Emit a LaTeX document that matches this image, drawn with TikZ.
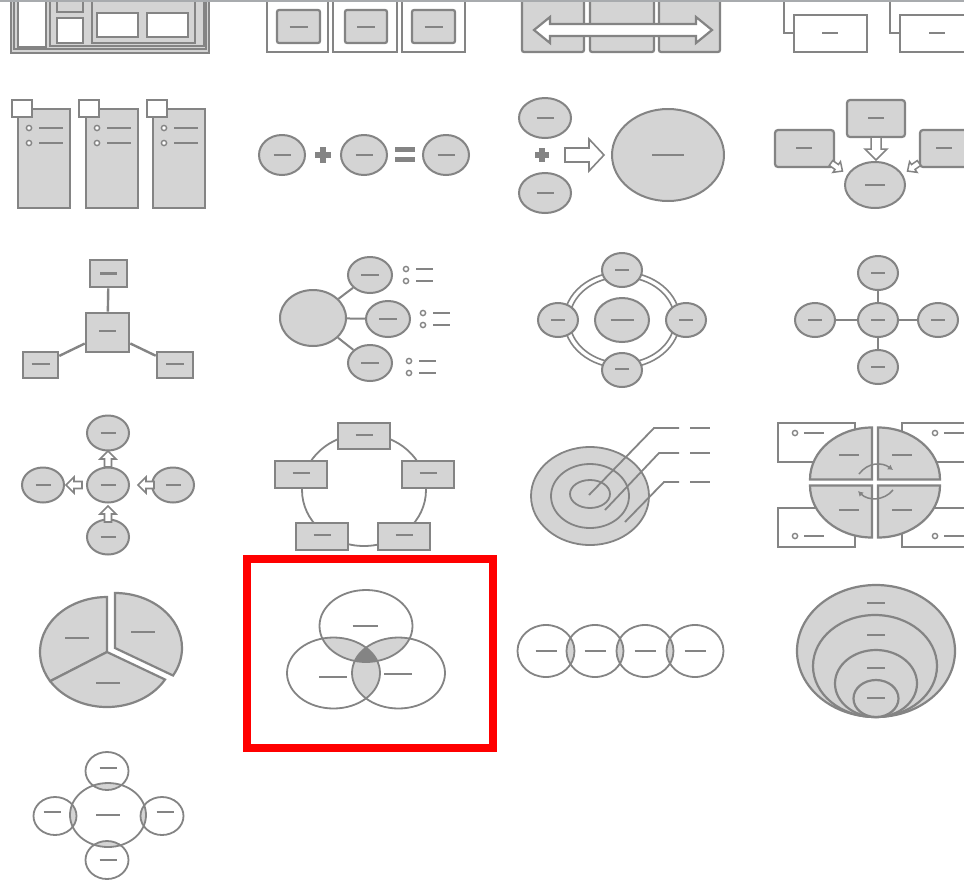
\documentclass[tikz,border=0pt]{standalone}
\usetikzlibrary{shapes.geometric,arrows.meta}
\definecolor{sg}{HTML}{848484}
\definecolor{fg}{HTML}{D4D4D4}
\definecolor{tg}{HTML}{A8ABAE}
\tikzset{
 gl/.style={draw=sg, line width=2.2pt},
 fl/.style={gl, fill=fg},
 dashl/.style={draw=sg, line width=2.6pt},
 bul/.style={draw=sg, line width=1.4pt, fill=white},
 bline/.style={draw=sg, line width=2pt},
 conn/.style={draw=sg, line width=2.4pt},
 ebox/.style={ellipse, draw=sg, fill=fg, line width=2pt, inner sep=0pt},
 rbox/.style={rectangle, draw=sg, fill=fg, line width=2.6pt, inner sep=0pt},
 harrow/.style={draw=sg, fill=white, line width=1.6pt, line join=miter},
 thin/.style={draw=sg, line width=1.8pt},
}
\newcommand\mydash[3]{\draw[dashl] ({#1-#3/2},#2) -- ({#1+#3/2},#2);}
\newcommand\mybul[2]{\draw[bul] (#1,#2) circle[radius=2.6];}
\newcommand\harr[3]{\draw[harrow, shift={(#1,#2)}, rotate=#3] (0,-3.5) -- (8,-3.5) -- (8,-8) -- (16,0) -- (8,8) -- (8,3.5) -- (0,3.5) -- cycle;}
\begin{document}
\begin{tikzpicture}[x=1pt,y=-1pt]
\useasboundingbox (0,0) rectangle (964,879);
\clip (0,0) rectangle (964,879);
\fill[white] (0,0) rectangle (964,879);

% ---------- Row 0 (cropped) ----------
% icon A
\draw[fl] (11,-5) rectangle (209,53);
\draw[gl] (14,-5) -- (14,49) -- (206,49) -- (206,-5);
\draw[gl, fill=white] (18,-5) rectangle (46,47);
\draw[gl] (50,-5) -- (50,46) -- (204,46) -- (204,-5);
\draw[gl] (57,-5) -- (57,12) -- (83,12) -- (83,-5);
\draw[gl, fill=white] (57,18) rectangle (83,43);
\draw[gl] (92,-5) -- (92,43) -- (195,43) -- (195,-5);
\draw[gl, fill=white] (97,13) rectangle (138,37);
\draw[gl, fill=white] (147,13) rectangle (188,37);
% icon B
\foreach \a/\b/\c/\d in {267/328/277/320, 333/397/345/387, 402/465/412/455}{
  \draw[gl] (\a,-5) -- (\a,52) -- (\b,52) -- (\b,-5);
  \draw[fl, rounded corners=2] (\c,10) rectangle (\d,43);
  \draw[dashl] ({(\c+\d)/2-9},27) -- ({(\c+\d)/2+9},27);
}
% icon C
\draw[fl, rounded corners=2] (522,-5) rectangle (584,52);
\draw[fl, rounded corners=2] (590,-5) rectangle (654,52);
\draw[fl, rounded corners=2] (659,-5) rectangle (720,52);
\draw[gl, fill=white] (534,30) -- (550,17) -- (550,24) -- (696,24) -- (696,17) -- (712,30) -- (696,43) -- (696,36) -- (550,36) -- (550,43) -- cycle;
% icon D
\draw[gl] (784,-5) -- (784,33) -- (794,33);
\draw[gl, fill=white] (794,15) rectangle (867,52);
\mydash{830}{33}{16}
\draw[gl] (890,-5) -- (890,33) -- (900,33);
\draw[gl, fill=white] (900,15) rectangle (980,52);
\mydash{937}{33}{16}

% ---------- Row 1 ----------
% icon E
\foreach \s/\r in {12/18, 79/86, 147/153}{
  \draw[fl] (\r,109) rectangle ({\r+52},208);
  \draw[gl, fill=white] (\s,100) rectangle ({\s+20},117);
  \draw[bul] ({\r+11},128) circle[radius=2.6];
  \draw[bul] ({\r+11},143) circle[radius=2.6];
  \draw[bline] ({\r+21},128) -- ({\r+45},128);
  \draw[bline] ({\r+21},143) -- ({\r+45},143);
}
% icon F
\node[ebox, minimum width=46, minimum height=40] (f1) at (282,155) {};
\node[ebox, minimum width=46, minimum height=40] (f2) at (364,155) {};
\node[ebox, minimum width=46, minimum height=40] (f3) at (446,155) {};
\mydash{282}{155}{17}\mydash{364}{155}{17}\mydash{446}{155}{17}
\draw[draw=sg, line width=6pt] (315,155) -- (331,155);
\draw[draw=sg, line width=6pt] (323,147) -- (323,163);
\draw[draw=sg, line width=5pt] (395,149.5) -- (415,149.5);
\draw[draw=sg, line width=5pt] (395,159.5) -- (415,159.5);
% icon G
\node[ebox, minimum width=52, minimum height=40] (g1) at (545,118) {};
\node[ebox, minimum width=52, minimum height=40] (g2) at (545,193) {};
\node[ebox, minimum width=112, minimum height=92] (g3) at (668,155) {};
\mydash{545}{118}{17}\mydash{545}{193}{17}\mydash{668}{155}{32}
\draw[draw=sg, line width=6pt] (535,155) -- (549,155);
\draw[draw=sg, line width=6pt] (542,148) -- (542,162);
\draw[harrow] (565,148) -- (589,148) -- (589,139) -- (604,155) -- (589,171) -- (589,162) -- (565,162) -- cycle;
% icon H
\node[rbox, rounded corners=3, line width=2.2pt, minimum width=58, minimum height=37] (h1) at (876,118.5) {};
\node[rbox, rounded corners=3, line width=2.2pt, minimum width=59, minimum height=37] (h2) at (804.5,148.5) {};
\node[rbox, rounded corners=3, line width=2.2pt, minimum width=60, minimum height=37] (h3) at (950,148.5) {};
\node[ebox, minimum width=60, minimum height=46] (h4) at (875,185) {};
\mydash{876}{118}{16}\mydash{804}{148}{16}\mydash{944}{148}{16}\mydash{875}{185}{20}
\draw[harrow, line width=1.5pt] (871,137) -- (881,137) -- (881,149) -- (887,149) -- (876,160) -- (865,149) -- (871,149) -- cycle;
\draw[harrow, line width=1.5pt, shift={(831,163)}, rotate=-35] (0,-3) -- (7,-3) -- (7,-6.5) -- (14,0) -- (7,6.5) -- (7,3) -- (0,3) -- cycle;
\draw[harrow, line width=1.5pt, shift={(919,163)}, rotate=215] (0,-3) -- (7,-3) -- (7,-6.5) -- (14,0) -- (7,6.5) -- (7,3) -- (0,3) -- cycle;

% ---------- Row 2 ----------
% icon I
\node[rbox, minimum width=37, minimum height=27] (it) at (108.5,273.5) {};
\node[rbox, minimum width=43, minimum height=39] (ic) at (107.5,332.5) {};
\node[rbox, minimum width=35, minimum height=26] (ibl) at (40.5,365) {};
\node[rbox, minimum width=36, minimum height=26] (ibr) at (175,365) {};
\draw[conn] (it) -- (ic);
\draw[conn] (ic) -- (ibl);
\draw[conn] (ic) -- (ibr);
\mydash{108.5}{273.5}{17}\mydash{107.5}{331}{17}\mydash{40.5}{364}{18}\mydash{175}{364}{18}
% icon J
\node[ebox, minimum width=66, minimum height=56] (jc) at (313,318) {};
\node[ebox, minimum width=44, minimum height=36] (j1) at (370,275) {};
\node[ebox, minimum width=44, minimum height=36] (j2) at (388,319) {};
\node[ebox, minimum width=44, minimum height=36] (j3) at (370,363) {};
\draw[conn, line width=2pt] (jc) -- (j1);
\draw[conn, line width=2pt] (jc) -- (j2);
\draw[conn, line width=2pt] (jc) -- (j3);
\mydash{370}{275}{18}\mydash{388}{319}{18}\mydash{370}{363}{18}
\foreach \bx/\by in {406/269, 406/281, 423/313, 423/325, 409/361, 409/373}{
  \draw[bul] (\bx,\by) circle[radius=2.6];
  \draw[bline] ({\bx+10},\by) -- ({\bx+27},\by);
}
% icon K
\draw[thin, line width=1.6pt] (622,320) ellipse[x radius=58, y radius=48];
\draw[thin, line width=1.6pt] (622,320) ellipse[x radius=52.5, y radius=43];
\node[ebox, minimum width=54, minimum height=44] (kc) at (622,320) {};
\node[ebox, minimum width=40, minimum height=34] (kt) at (622,270) {};
\node[ebox, minimum width=40, minimum height=34] (kb) at (622,370) {};
\node[ebox, minimum width=40, minimum height=34] (kl) at (558,320) {};
\node[ebox, minimum width=40, minimum height=34] (kr) at (686,320) {};
\mydash{622}{320}{23}\mydash{622}{270}{14}\mydash{622}{369}{14}\mydash{558}{320}{14}\mydash{686}{320}{14}
% icon L
\node[ebox, minimum width=40, minimum height=34] (lc) at (878,320) {};
\node[ebox, minimum width=40, minimum height=34] (lt) at (878,273) {};
\node[ebox, minimum width=40, minimum height=34] (lb) at (878,367) {};
\node[ebox, minimum width=40, minimum height=34] (ll) at (815,320) {};
\node[ebox, minimum width=40, minimum height=34] (lr) at (938,320) {};
\draw[conn, line width=2.2pt] (lc) -- (lt);
\draw[conn, line width=2.2pt] (lc) -- (lb);
\draw[conn, line width=2.2pt] (lc) -- (ll);
\draw[conn, line width=2.2pt] (lc) -- (lr);
\mydash{878}{320}{14}\mydash{878}{273}{14}\mydash{878}{367}{14}\mydash{815}{320}{14}\mydash{938}{320}{14}

% ---------- Row 3 ----------
% icon M
\node[ebox, minimum width=42, minimum height=35] (mc) at (108,485) {};
\node[ebox, minimum width=42, minimum height=35] (mt) at (108,433) {};
\node[ebox, minimum width=42, minimum height=35] (mb) at (108,537) {};
\node[ebox, minimum width=42, minimum height=35] (ml) at (43,485) {};
\node[ebox, minimum width=42, minimum height=35] (mr) at (173,485) {};
\mydash{108}{485}{15}\mydash{108}{433}{15}\mydash{108}{537}{15}\mydash{43}{485}{15}\mydash{173}{485}{15}
\harr{82}{485}{180}
\harr{154}{485}{180}
\harr{108}{467}{90}
\harr{108}{522}{90}
% icon N
\draw[thin] (364,490) ellipse[x radius=62, y radius=56];
\node[rbox, minimum width=52, minimum height=26] (n1) at (364,436) {};
\node[rbox, minimum width=52, minimum height=27] (n2) at (301,474.5) {};
\node[rbox, minimum width=52, minimum height=27] (n3) at (428,474.5) {};
\node[rbox, minimum width=52, minimum height=27] (n4) at (322,536.5) {};
\node[rbox, minimum width=52, minimum height=27] (n5) at (404,536.5) {};
\mydash{364}{435}{17}\mydash{301}{473}{17}\mydash{428}{473}{17}\mydash{322}{535}{17}\mydash{404}{535}{17}
% icon O (target)
\draw[fl, line width=1.8pt] (590,496) ellipse[x radius=59, y radius=49];
\draw[thin] (590,496) ellipse[x radius=39, y radius=32];
\draw[thin] (590,494) ellipse[x radius=20, y radius=14];
\draw[thin] (589,495) -- (654,428) -- (679,428);
\draw[thin] (605,510) -- (659,453) -- (679,453);
\draw[thin] (625,522) -- (664,482) -- (679,482);
\draw[bline] (690,428) -- (710,428);
\draw[bline] (690,453) -- (710,453);
\draw[bline] (690,482) -- (710,482);
% icon P (quadrants)
\draw[gl, fill=white] (778,423) rectangle (855,462);
\draw[gl, fill=white] (902,423) rectangle (980,462);
\draw[gl, fill=white] (778,508) rectangle (855,547);
\draw[gl, fill=white] (902,508) rectangle (980,547);
\foreach \bx/\by in {795/433, 935/433, 795/536, 935/536}{
  \draw[bul] (\bx,\by) circle[radius=2.6];
  \draw[bline] ({\bx+9},\by) -- ({\bx+29},\by);
}
\draw[fl] (872,479.5) -- ++(-62,0) arc[start angle=180, end angle=270, x radius=62, y radius=52] -- cycle;
\draw[fl] (878,479.5) -- ++(0,-52) arc[start angle=270, end angle=360, x radius=62, y radius=52] -- cycle;
\draw[fl] (872,485.5) -- ++(-62,0) arc[start angle=180, end angle=90, x radius=62, y radius=52] -- cycle;
\draw[fl] (878,485.5) -- ++(0,52) arc[start angle=90, end angle=0, x radius=62, y radius=52] -- cycle;
\mydash{849}{455}{20}\mydash{902}{455}{20}\mydash{849}{510}{20}\mydash{902}{510}{20}
\draw[draw=sg, line width=1.5pt, -{Latex[length=5pt,width=6pt]}] (859,474) .. controls (868,462) and (882,462) .. (893,470);
\draw[draw=sg, line width=1.5pt, -{Latex[length=5pt,width=6pt]}] (893,490) .. controls (884,501) and (868,501) .. (858,491);

% ---------- Row 4 ----------
% icon Q (pie)
\draw[fl] (107,652) -- +(148:67 and 55) arc[start angle=148, end angle=270, x radius=67, y radius=55] -- cycle;
\draw[fl] (107,652) -- +(30:67 and 55) arc[start angle=30, end angle=148, x radius=67, y radius=55] -- cycle;
\draw[fl] (115,648) -- +(-90:67 and 55) arc[start angle=-90, end angle=30, x radius=67, y radius=55] -- cycle;
\mydash{77}{638}{24}\mydash{143}{632}{24}\mydash{108}{683}{24}
% icon R (Venn)
\def\vt{(366,626) ellipse[x radius=46.5, y radius=36]}
\def\vl{(333.5,673) ellipse[x radius=46.5, y radius=35.5]}
\def\vr{(398.5,673) ellipse[x radius=46.5, y radius=35.5]}
\begin{scope}
  \clip \vt;
  \fill[fg] \vl;
  \fill[fg] \vr;
\end{scope}
\begin{scope}
  \clip \vl;
  \fill[fg] \vr;
\end{scope}
\begin{scope}
  \clip \vt;
  \clip \vl;
  \fill[sg] \vr;
\end{scope}
\draw[thin] \vt;
\draw[thin] \vl;
\draw[thin] \vr;
\mydash{365}{626}{25}\mydash{333}{677}{28}\mydash{398}{674}{28}
% selection frame
\draw[draw=red, line width=7.4pt] (247,559) rectangle (493,748);
% icon S (chain)
\foreach \a/\b in {546/595, 595/645, 645/695}{
  \begin{scope}
    \clip (\a,651) ellipse[x radius=28.5, y radius=26];
    \fill[fg] (\b,651) ellipse[x radius=28.5, y radius=26];
  \end{scope}
}
\foreach \a in {546,595,645,695}{
  \draw[thin] (\a,651) ellipse[x radius=28.5, y radius=26];
  \mydash{\a}{651}{21}
}
% icon T (nested)
\draw[fl] (876,651) ellipse[x radius=79, y radius=66];
\draw[fl] (875,666) ellipse[x radius=62, y radius=51];
\draw[fl] (876,683.5) ellipse[x radius=41, y radius=33.5];
\draw[fl] (876,698.5) ellipse[x radius=22.5, y radius=18.5];
\mydash{876}{603}{18}\mydash{876}{635}{18}\mydash{876}{668}{18}\mydash{876}{698}{18}
% icon U
\foreach \cx/\cy in {107/771, 107/860, 55/816, 162/816}{
  \begin{scope}
    \clip (108,815) ellipse[x radius=38, y radius=32];
    \fill[fg] (\cx,\cy) ellipse[x radius=21.5, y radius=19];
  \end{scope}
}
\draw[thin] (108,815) ellipse[x radius=38, y radius=32];
\foreach \cx/\cy in {107/771, 107/860, 55/816, 162/816}{
  \draw[thin] (\cx,\cy) ellipse[x radius=21.5, y radius=19];
}
\mydash{108}{815}{24}\mydash{108}{768}{17}\mydash{108}{860}{17}\mydash{52}{812}{17}\mydash{165}{812}{17}

% top rule
\draw[draw=tg, line width=2.5pt] (0,1) -- (964,1);
\end{tikzpicture}
\end{document}
